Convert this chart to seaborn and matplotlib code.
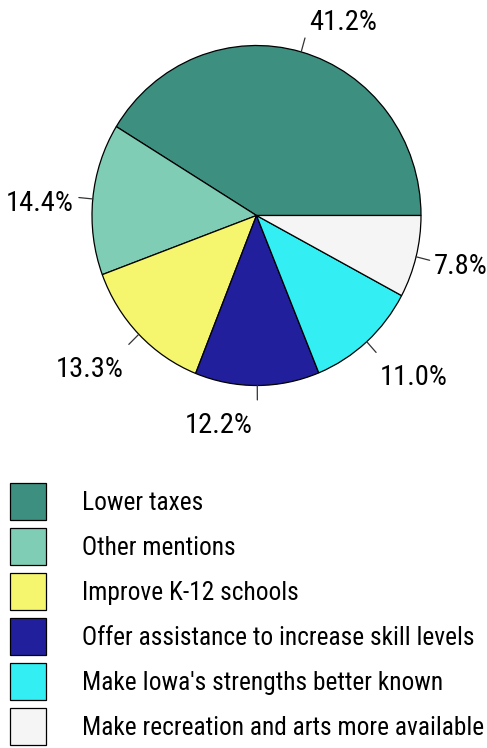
import numpy as np
import matplotlib
matplotlib.use("Agg")
import matplotlib.pyplot as plt
from matplotlib import font_manager
import seaborn as sns

# Survey responses: share of mentions per suggested action
categories = [
    "Lower taxes",
    "Other mentions",
    "Improve K-12 schools",
    "Offer assistance to increase skill levels",
    "Make Iowa's strengths better known",
    "Make recreation and arts more available",
]
shares = [41.2, 14.4, 13.3, 12.2, 11.0, 7.8]
colors = ["#3d8f80", "#80cdb6", "#f5f56e", "#221f9c", "#33eef2", "#f5f5f5"]

sns.set_theme(style="white")
installed = {f.name for f in font_manager.fontManager.ttflist}
family = [f for f in ["Liberation Sans Narrow", "Roboto Condensed", "DejaVu Sans"] if f in installed]
plt.rcParams["font.family"] = family
plt.rcParams["text.color"] = "black"

W, H = 487, 748
fig = plt.figure(figsize=(W / 100, H / 100), dpi=100)
fig.patch.set_facecolor("white")

# Pie axes: top part of the figure, slightly taller than wide scale
cx, cy = 256.5, 215.5      # pie centre in pixels from top-left
rx, ry = 164.5, 170.0      # pixels per data unit
top_h = 460
ax = fig.add_axes([0, 1 - top_h / H, 1, top_h / H])

wedges, _ = ax.pie(
    shares,
    colors=colors,
    startangle=0,
    counterclock=True,
    wedgeprops=dict(edgecolor="black", linewidth=0.9),
)
ax.set_aspect("auto")
ax.set_xlim(-cx / rx, (W - cx) / rx)
ax.set_ylim(-(top_h - cy) / ry, cy / ry)
ax.axis("off")

# Percentage labels with short leader lines
for w, v in zip(wedges, shares):
    ang = np.deg2rad((w.theta1 + w.theta2) / 2)
    c, s = np.cos(ang), np.sin(ang)
    x1, y1 = 1.085 * c, 1.085 * s
    ax.plot([c, x1], [s, y1], color="#333333", lw=0.9)
    if c > 0.05:
        ha, dx = "left", 4
    else:
        ha, dx = "right", -5
    if s > 0.5:
        va, dy = "bottom", 2
    elif s < -0.5:
        va, dy = "top", -12
    else:
        va, dy = "center", -6
    ax.annotate(f"{v:.1f}%", xy=(x1, y1), xytext=(dx, dy),
                textcoords="offset pixels", ha=ha, va=va, fontsize=20.5)

# Legend below the pie
fig.legend(
    wedges,
    categories,
    loc="upper left",
    bbox_to_anchor=(10 / W, 1 - 483 / H),
    frameon=False,
    fontsize=18.3,
    handlelength=1.42,
    handleheight=1.865,
    handletextpad=1.42,
    labelspacing=0.315,
    borderpad=0,
    borderaxespad=0,
)

fig.savefig("out.png", dpi=100, facecolor="white")
